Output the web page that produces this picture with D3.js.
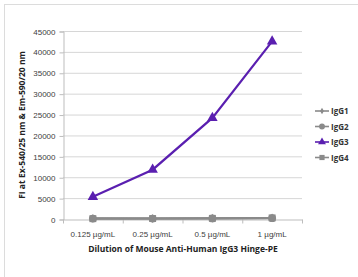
<!DOCTYPE html>
<html lang="en">
<head>
    <meta charset="UTF-8">
    <title>IgG3 Hinge-PE dilution</title>
    <script src="https://d3js.org/d3.v7.min.js"></script>
    <style>
        body { margin: 0; background: white; font-family: "Open Sans", Arial, sans-serif; }
        .tick text { fill: #404040; font-size: 8px; }
        .axis-title { font-weight: bold; font-size: 8.5px; fill: #222; }
        .legend text { font-weight: bold; font-size: 8px; fill: #333; }
    </style>
</head>
<body>
    <svg id="chart" width="358" height="277"></svg>
    <script>
        // data
        const dilutions = ["0.125 µg/mL", "0.25 µg/mL", "0.5 µg/mL", "1 µg/mL"];
        const igg1 = [150, 120, 180, 250];
        const igg2 = [100, 90, 130, 200];
        const igg3 = [5300, 11800, 24200, 42500];
        const igg4 = [80, 110, 150, 260];
        const yTicks = [0, 5000, 10000, 15000, 20000, 25000, 30000, 35000, 40000, 45000];

        const series = [
            { name: "IgG1", values: igg1, color: "#8a8a8a", shape: d3.symbolDiamond, size: 14 },
            { name: "IgG2", values: igg2, color: "#8a8a8a", shape: d3.symbolCircle, size: 30 },
            { name: "IgG3", values: igg3, color: "#5a1fb0", shape: d3.symbolTriangle, size: 30 },
            { name: "IgG4", values: igg4, color: "#8a8a8a", shape: d3.symbolSquare, size: 30 }
        ];

        const svg = d3.select("#chart");

        // outer frame (only top/left visible)
        svg.append("rect")
            .attr("x", 4.5).attr("y", 4.5)
            .attr("width", 400).attr("height", 400)
            .attr("fill", "none").attr("stroke", "#dcdcdc");

        const plotLeft = 63, plotRight = 302, plotTop = 31, plotBottom = 219;

        const x = d3.scaleBand().domain(dilutions).range([plotLeft, plotRight]);
        const y = d3.scaleLinear().domain([0, 45000]).range([plotBottom, plotTop]);

        // gridlines
        svg.append("g")
            .selectAll("line")
            .data(yTicks.slice(1))
            .enter()
            .append("line")
            .attr("x1", plotLeft).attr("x2", plotRight)
            .attr("y1", d => y(d) + 0.5).attr("y2", d => y(d) + 0.5)
            .attr("stroke", "#d6d6d6");

        // y axis
        const yAxis = svg.append("g")
            .attr("transform", `translate(${plotLeft + 0.5},0.5)`)
            .call(d3.axisLeft(y).tickValues(yTicks).tickSize(4).tickPadding(4).tickFormat(d3.format("d")));
        yAxis.select(".domain").attr("stroke", "#bdbdbd");
        yAxis.selectAll(".tick line").attr("stroke", "#bdbdbd");

        // x axis
        const xAxis = svg.append("g")
            .attr("transform", `translate(0,${plotBottom + 0.5})`)
            .call(d3.axisBottom(x).tickSize(0).tickPadding(10));
        xAxis.select(".domain").attr("stroke", "#bdbdbd");
        xAxis.selectAll(".tick text").attr("dy", "0.9em");
        // tick marks at band boundaries
        xAxis.selectAll(".bound")
            .data(dilutions.concat(["end"]))
            .enter()
            .append("line")
            .attr("x1", (d, i) => plotLeft + i * x.step() + 0.5)
            .attr("x2", (d, i) => plotLeft + i * x.step() + 0.5)
            .attr("y1", 0).attr("y2", 4)
            .attr("stroke", "#bdbdbd");

        // lines + markers
        const line = d3.line()
            .x((d, i) => x(dilutions[i]) + x.bandwidth() / 2)
            .y(d => y(d));

        series.forEach(s => {
            svg.append("path")
                .datum(s.values)
                .attr("d", line)
                .attr("fill", "none")
                .attr("stroke", s.color)
                .attr("stroke-width", s.name === "IgG3" ? 2.2 : 2);
            svg.append("g")
                .selectAll("path")
                .data(s.values)
                .enter()
                .append("path")
                .attr("transform", (d, i) => `translate(${x(dilutions[i]) + x.bandwidth() / 2},${y(d)})`)
                .attr("d", d3.symbol().type(s.shape).size(s.size * 1.6))
                .attr("fill", s.color);
        });

        // legend
        const legend = svg.append("g").attr("class", "legend");
        series.forEach((s, i) => {
            const ly = 111 + i * 15.5;
            legend.append("line")
                .attr("x1", 315).attr("x2", 329)
                .attr("y1", ly).attr("y2", ly)
                .attr("stroke", s.color).attr("stroke-width", 1.6);
            legend.append("path")
                .attr("transform", `translate(322,${ly})`)
                .attr("d", d3.symbol().type(s.shape).size(s.size * 0.9))
                .attr("fill", s.color);
            legend.append("text")
                .attr("x", 331).attr("y", ly + 3)
                .text(s.name);
        });

        // axis titles
        svg.append("text")
            .attr("class", "axis-title")
            .attr("transform", "translate(25,125) rotate(-90)")
            .attr("text-anchor", "middle")
            .text("FI at Ex-540/25 nm & Em-590/20 nm");

        svg.append("text")
            .attr("class", "axis-title")
            .attr("x", 183).attr("y", 252)
            .attr("text-anchor", "middle")
            .text("Dilution of Mouse Anti-Human IgG3 Hinge-PE");
    </script>
</body>
</html>
